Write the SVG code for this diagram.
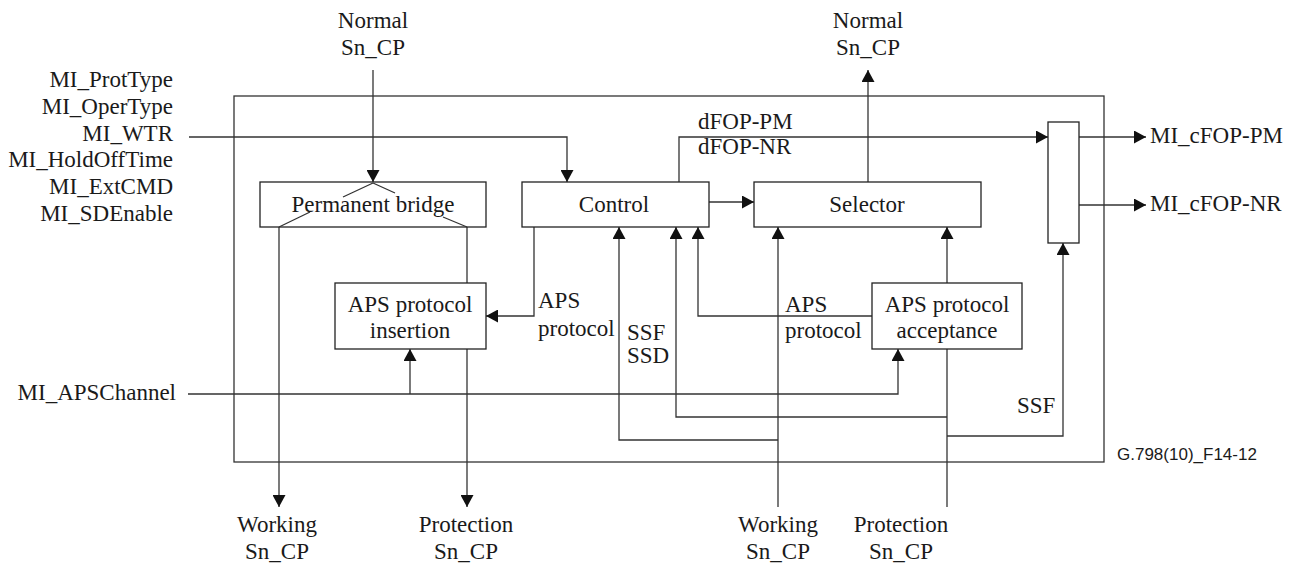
<svg xmlns="http://www.w3.org/2000/svg" width="1297" height="564" viewBox="0 0 1297 564">
<style>
  text { font-family: "Liberation Serif", "Times New Roman", serif; font-size: 23px; fill: #1a1a1a; }
  .mid { text-anchor: middle; }
  .end { text-anchor: end; }
  .box { fill: #fff; stroke: #222; stroke-width: 1.3; }
  .outer { fill: none; stroke: #333; stroke-width: 1.3; }
  .ln { fill: none; stroke: #333; stroke-width: 1.3; }
  .arr { marker-end: url(#ah); }
  .ref { font-family: "Liberation Sans", Arial, sans-serif; font-size: 17px; }
</style>
<defs>
  <marker id="ah" markerUnits="userSpaceOnUse" markerWidth="12" markerHeight="13" refX="12" refY="6.5" orient="auto">
    <path d="M0,0 L12,6.5 L0,13 z" fill="#111"/>
  </marker>
</defs>

<g id="function-boundary">
  <rect class="outer" x="234" y="96" width="870" height="366"/>
</g>

<g id="connectors">
  <path class="ln arr" d="M373,70 V182"/>
  <path class="ln arr" d="M189,137 H567 V182"/>
  <path class="ln arr" d="M679,182 V137 H1048"/>
  <path class="ln arr" d="M868,182 V70"/>
  <path class="ln arr" d="M709,202 H754"/>
  <path class="ln arr" d="M1079,137 H1146"/>
  <path class="ln arr" d="M1079,205 H1146"/>
  <path class="ln arr" d="M279,227 V507"/>
  <path class="ln" d="M467,227 V283"/>
  <path class="ln arr" d="M467,349 V507"/>
  <path class="ln arr" d="M534,227 V316 H486"/>
  <path class="ln arr" d="M188,394 H898 V349"/>
  <path class="ln arr" d="M410,394 V349"/>
  <path class="ln arr" d="M872,316 H698 V227"/>
  <path class="ln arr" d="M947,283 V227"/>
  <path class="ln" d="M947,507 V349"/>
  <path class="ln arr" d="M947,417 H676 V227"/>
  <path class="ln arr" d="M947,436 H1063 V243"/>
  <path class="ln arr" d="M778,507 V227"/>
  <path class="ln arr" d="M778,440 H619 V227"/>
</g>

<g id="permanent-bridge">
  <rect class="box" x="260" y="182" width="226" height="45"/>
  <path class="ln" d="M373,183 L343,197 M310,212 L279,227 M373,183 L395,193 M443,217 L467,227"/>
  <text class="mid" x="373" y="212">Permanent bridge</text>
</g>

<g id="control">
  <rect class="box" x="522" y="182" width="187" height="45"/>
  <text class="mid" x="614" y="212">Control</text>
</g>

<g id="selector">
  <rect class="box" x="754" y="182" width="227" height="45"/>
  <text class="mid" x="867" y="212">Selector</text>
</g>

<g id="aps-insertion">
  <rect class="box" x="335" y="283" width="151" height="66"/>
  <text class="mid" x="410" y="312">APS protocol</text>
  <text class="mid" x="410" y="338">insertion</text>
</g>

<g id="aps-acceptance">
  <rect class="box" x="872" y="283" width="150" height="66"/>
  <text class="mid" x="947" y="312">APS protocol</text>
  <text class="mid" x="947" y="338">acceptance</text>
</g>

<g id="fop-block">
  <rect class="box" x="1048" y="122" width="31" height="121"/>
</g>

<g id="labels">
  <text class="mid" x="373" y="28">Normal</text>
  <text class="mid" x="373" y="55">Sn_CP</text>
  <text class="mid" x="868" y="28">Normal</text>
  <text class="mid" x="868" y="55">Sn_CP</text>

  <text class="end" x="173" y="87">MI_ProtType</text>
  <text class="end" x="173" y="114">MI_OperType</text>
  <text class="end" x="173" y="141">MI_WTR</text>
  <text class="end" x="173" y="167">MI_HoldOffTime</text>
  <text class="end" x="173" y="194">MI_ExtCMD</text>
  <text class="end" x="173" y="221">MI_SDEnable</text>
  <text class="end" x="176" y="400">MI_APSChannel</text>

  <text x="698" y="129">dFOP-PM</text>
  <text x="698" y="154">dFOP-NR</text>

  <text x="1150" y="143">MI_cFOP-PM</text>
  <text x="1150" y="211">MI_cFOP-NR</text>

  <text x="538" y="308">APS</text>
  <text x="538" y="336">protocol</text>
  <text x="785" y="312">APS</text>
  <text x="785" y="338">protocol</text>

  <text x="627" y="340">SSF</text>
  <text x="627" y="363">SSD</text>
  <text x="1017" y="413">SSF</text>

  <text class="mid" x="277" y="532">Working</text>
  <text class="mid" x="277" y="559">Sn_CP</text>
  <text class="mid" x="466" y="532">Protection</text>
  <text class="mid" x="466" y="559">Sn_CP</text>
  <text class="mid" x="778" y="532">Working</text>
  <text class="mid" x="778" y="559">Sn_CP</text>
  <text class="mid" x="901" y="532">Protection</text>
  <text class="mid" x="901" y="559">Sn_CP</text>

  <text class="ref" x="1117" y="460">G.798(10)_F14-12</text>
</g>
</svg>
